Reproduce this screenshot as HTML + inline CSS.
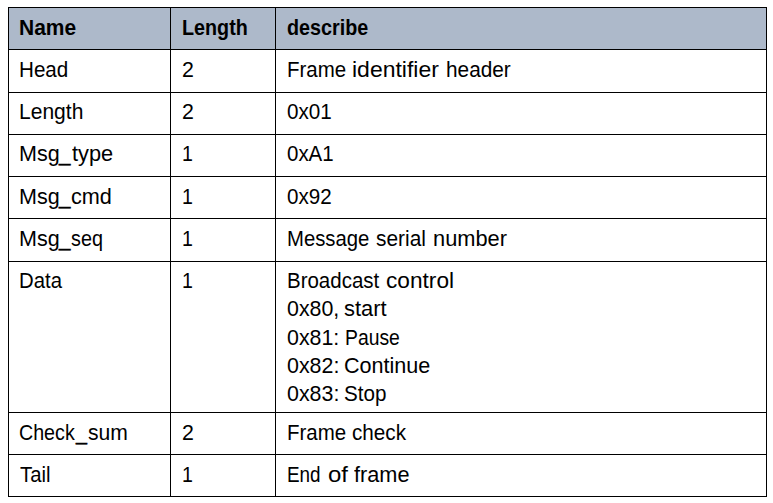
<!DOCTYPE html>
<html lang="en"><head><meta charset="utf-8"><title>Frame format table</title>
<style>
html,body{margin:0;padding:0;background:#fff}
#p{position:relative;width:773px;height:503px;overflow:hidden;background:#fff;font-family:"Liberation Sans",sans-serif;font-size:21.5px;color:#000}
.t{position:absolute;white-space:nowrap;line-height:24px;height:24px;transform-origin:0 0}
.b{font-weight:bold}
.u{-webkit-text-stroke:0.5px #000}
table{margin:7px 0 0 8px;width:759px;border-collapse:collapse;table-layout:fixed;border-spacing:0}
th,td{border:1px solid #000;padding:0;margin:0;font-weight:normal;text-align:left;overflow:visible}
thead th{background:#adb9ca}
</style></head><body><div id="p">
<table>
<colgroup><col style="width:162px"><col style="width:105px"><col style="width:491px"></colgroup>
<thead>
<tr style="height:42px">
<th><span class="t b" style="left:19px;top:16px;transform:scaleX(0.9751)">Name</span></th>
<th><span class="t b" style="left:182px;top:16px;transform:scaleX(0.9179)">Length</span></th>
<th><span class="t b" style="left:287px;top:16px;transform:scaleX(0.9180)">describe</span></th>
</tr>
</thead>
<tbody>
<tr style="height:43px">
<td><span class="t" style="left:19px;top:58px;transform:scaleX(0.9589)">Head</span></td>
<td><span class="t" style="left:182px;top:58px;transform:scaleX(0.9934)">2</span></td>
<td><span class="t" style="left:287px;top:58px;transform:scaleX(0.9525)">Frame</span> <span class="t" style="left:352px;top:58px;transform:scaleX(1.0685)">identifier</span> <span class="t" style="left:446px;top:58px;transform:scaleX(0.9671)">header</span></td>
</tr>
<tr style="height:42px">
<td><span class="t" style="left:19px;top:100px;transform:scaleX(0.9788)">Length</span></td>
<td><span class="t" style="left:182px;top:100px;transform:scaleX(0.9934)">2</span></td>
<td><span class="t" style="left:287px;top:100px;transform:scaleX(0.9603)">0x01</span></td>
</tr>
<tr style="height:42px">
<td><span class="t" style="left:19px;top:142px;transform:scaleX(1.0007)">Msg</span><span class="t u" style="left:59px;top:142px;transform:scaleX(0.9508)">_</span><span class="t" style="left:72px;top:142px;transform:scaleX(1.0126)">type</span></td>
<td><span class="t" style="left:182px;top:142px;transform:scaleX(0.9106)">1</span></td>
<td><span class="t" style="left:287px;top:142px;transform:scaleX(0.9519)">0xA1</span></td>
</tr>
<tr style="height:42px">
<td><span class="t" style="left:19px;top:185px;transform:scaleX(1.0007)">Msg</span><span class="t u" style="left:59px;top:185px;transform:scaleX(0.9508)">_</span><span class="t" style="left:71px;top:185px;transform:scaleX(1.0068)">cmd</span></td>
<td><span class="t" style="left:182px;top:185px;transform:scaleX(0.9106)">1</span></td>
<td><span class="t" style="left:287px;top:185px;transform:scaleX(0.9583)">0x92</span></td>
</tr>
<tr style="height:43px">
<td><span class="t" style="left:19px;top:227px;transform:scaleX(1.0007)">Msg</span><span class="t u" style="left:59px;top:227px;transform:scaleX(0.9508)">_</span><span class="t" style="left:71px;top:227px;transform:scaleX(0.9204)">seq</span></td>
<td><span class="t" style="left:182px;top:227px;transform:scaleX(0.9106)">1</span></td>
<td><span class="t" style="left:287px;top:227px;transform:scaleX(0.9439)">Message</span> <span class="t" style="left:376px;top:227px;transform:scaleX(0.9707)">serial</span> <span class="t" style="left:433px;top:227px;transform:scaleX(1.0146)">number</span></td>
</tr>
<tr style="height:151px">
<td><span class="t" style="left:19px;top:269px;transform:scaleX(0.9454)">Data</span></td>
<td><span class="t" style="left:182px;top:269px;transform:scaleX(0.9106)">1</span></td>
<td><span class="t" style="left:287px;top:269px;transform:scaleX(0.9526)">Broadcast</span> <span class="t" style="left:386px;top:269px;transform:scaleX(1.0540)">control</span><br>
<span class="t" style="left:287px;top:297px;transform:scaleX(0.9934)">0x80,</span> <span class="t" style="left:344px;top:297px;transform:scaleX(1.0193)">start</span><br>
<span class="t" style="left:287px;top:326px;transform:scaleX(0.9938)">0x81:</span> <span class="t" style="left:345px;top:326px;transform:scaleX(0.8994)">Pause</span><br>
<span class="t" style="left:287px;top:354px;transform:scaleX(0.9948)">0x82:</span> <span class="t" style="left:344px;top:354px;transform:scaleX(1.0036)">Continue</span><br>
<span class="t" style="left:287px;top:382px;transform:scaleX(0.9948)">0x83:</span> <span class="t" style="left:344px;top:382px;transform:scaleX(0.9599)">Stop</span></td>
</tr>
<tr style="height:42px">
<td><span class="t" style="left:19px;top:421px;transform:scaleX(0.9141)">Check</span><span class="t u" style="left:76px;top:421px;transform:scaleX(0.9130)">_</span><span class="t" style="left:88px;top:421px;transform:scaleX(0.9825)">sum</span></td>
<td><span class="t" style="left:182px;top:421px;transform:scaleX(0.9934)">2</span></td>
<td><span class="t" style="left:287px;top:421px;transform:scaleX(0.9525)">Frame</span> <span class="t" style="left:352px;top:421px;transform:scaleX(0.9617)">check</span></td>
</tr>
<tr style="height:42px">
<td><span class="t" style="left:20px;top:463px;transform:scaleX(0.9432)">Tail</span></td>
<td><span class="t" style="left:182px;top:463px;transform:scaleX(0.9106)">1</span></td>
<td><span class="t" style="left:287px;top:463px;transform:scaleX(0.8784)">End</span> <span class="t" style="left:328px;top:463px;transform:scaleX(1.1153)">of</span> <span class="t" style="left:354px;top:463px;transform:scaleX(1.0099)">frame</span></td>
</tr>
</tbody></table>
</div></body></html>
